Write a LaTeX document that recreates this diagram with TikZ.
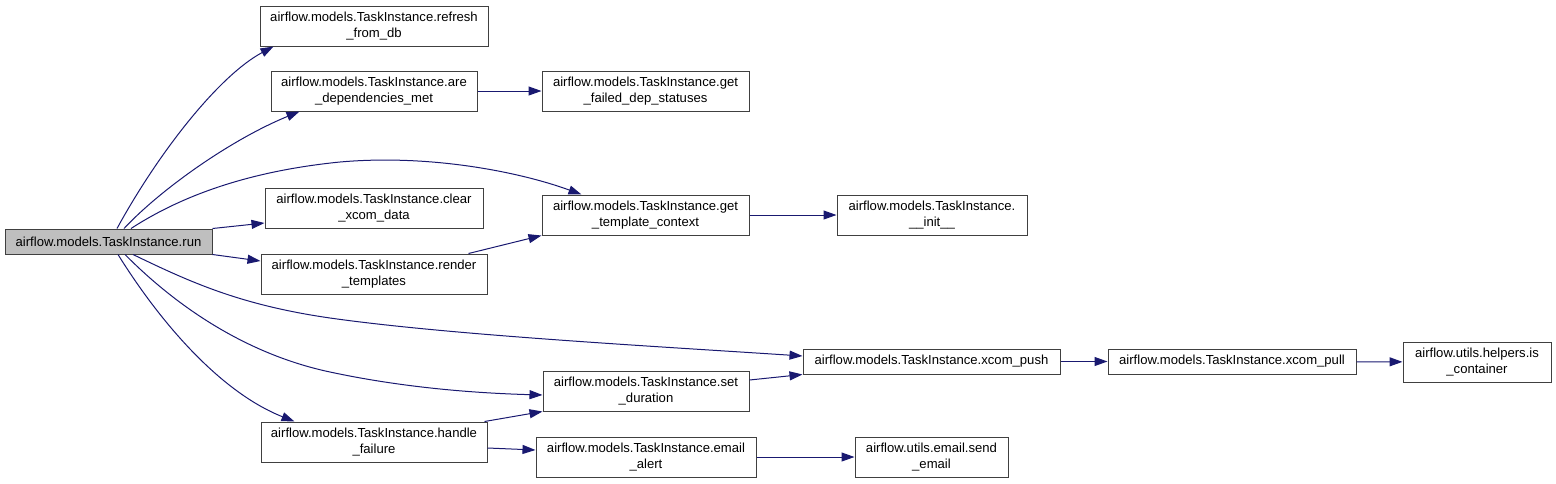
\documentclass[tikz,border=0pt]{standalone}
\usepackage{fontspec}
\setmainfont{Liberation Sans}
\usetikzlibrary{arrows.meta}

\definecolor{callblue}{HTML}{191970}
\definecolor{boxgray}{HTML}{404040}
\definecolor{rungray}{HTML}{BFBFBF}

\tikzset{
  fn/.style={draw=boxgray, line width=1pt, fill=white, inner sep=0pt,
    align=center, font=\fontsize{13.1}{15.5}\selectfont, minimum height=40pt},
  call/.style={draw=callblue, line width=1pt,
    -{Triangle[length=13pt,width=9pt]}}
}

\begin{document}
\begin{tikzpicture}[x=1pt,y=-1pt]
\useasboundingbox (0,0) rectangle (1556,483);

\node[fn,fill=rungray,minimum width=207pt,minimum height=25pt] (run) at (108.5,241.5) {airflow.models.TaskInstance.run};

\node[fn,minimum width=228pt] (refresh) at (374,26) {airflow.models.TaskInstance.refresh\\\_from\_db};
\node[fn,minimum width=206pt] (deps) at (374,91) {airflow.models.TaskInstance.are\\\_dependencies\_met};
\node[fn,minimum width=207pt] (failed) at (645.5,91) {airflow.models.TaskInstance.get\\\_failed\_dep\_statuses};
\node[fn,minimum width=218pt] (clear) at (374,208) {airflow.models.TaskInstance.clear\\\_xcom\_data};
\node[fn,minimum width=226pt] (render) at (374,274) {airflow.models.TaskInstance.render\\\_templates};
\node[fn,minimum width=207pt] (context) at (645.5,215) {airflow.models.TaskInstance.get\\\_template\_context};
\node[fn,minimum width=190pt] (init) at (932,215) {airflow.models.TaskInstance.\\\_\_init\_\_};
\node[fn,minimum width=226pt] (failure) at (374,442) {airflow.models.TaskInstance.handle\\\_failure};
\node[fn,minimum width=206pt] (duration) at (646,391) {airflow.models.TaskInstance.set\\\_duration};
\node[fn,minimum width=220pt] (alert) at (646,457) {airflow.models.TaskInstance.email\\\_alert};
\node[fn,minimum width=153pt] (send) at (931.5,457) {airflow.utils.email.send\\\_email};
\node[fn,minimum width=257pt,minimum height=25pt] (push) at (931.5,361.5) {airflow.models.TaskInstance.xcom\_push};
\node[fn,minimum width=248pt,minimum height=25pt] (pull) at (1232,361.5) {airflow.models.TaskInstance.xcom\_pull};
\node[fn,minimum width=148pt] (container) at (1477,362) {airflow.utils.helpers.is\\\_container};

% calls leaving run
\draw[call] ([xshift=8.5pt]run.north) .. controls (160,150) and (220,75) .. ([xshift=14pt]refresh.south west);
\draw[call] ([xshift=15.5pt]run.north) .. controls (160,190) and (230,140) .. ([xshift=29pt]deps.south west);
\draw[call] ([xshift=22.5pt]run.north) .. controls (175,200) and (240,172) .. (340,162) .. controls (430,154) and (520,172) .. ([xshift=40pt]context.north west);
\draw[call] (run.north east) -- ([yshift=-15pt]clear.west);
\draw[call] (run.south east) -- ([yshift=13pt]render.west);
\draw[call] ([xshift=24.5pt]run.south) .. controls (190,282) and (240,305) .. (330,318) .. controls (450,335) and (650,346) .. ([yshift=5.5pt]push.west);
\draw[call] ([xshift=16.5pt]run.south) .. controls (180,310) and (250,355) .. (330,372) .. controls (400,387) and (470,393) .. ([yshift=-4pt]duration.west);
\draw[call] ([xshift=9.5pt]run.south) .. controls (160,322) and (220,392) .. ([xshift=34pt]failure.north west);

% the other calls
\draw[call] ([xshift=-19pt]render.north east) -- (context.south west);
\draw[call] ([yshift=11pt]duration.east) -- (push.south west);
\draw[call] ([xshift=-3pt]failure.north east) -- (duration.south west);
\draw[call] ([yshift=-6pt]failure.east) -- ([yshift=7pt]alert.west);
\foreach \from/\to in {deps/failed,context/init,alert/send,push/pull,pull/container}
\draw[call] (\from) -- (\to);
\end{tikzpicture}
\end{document}
